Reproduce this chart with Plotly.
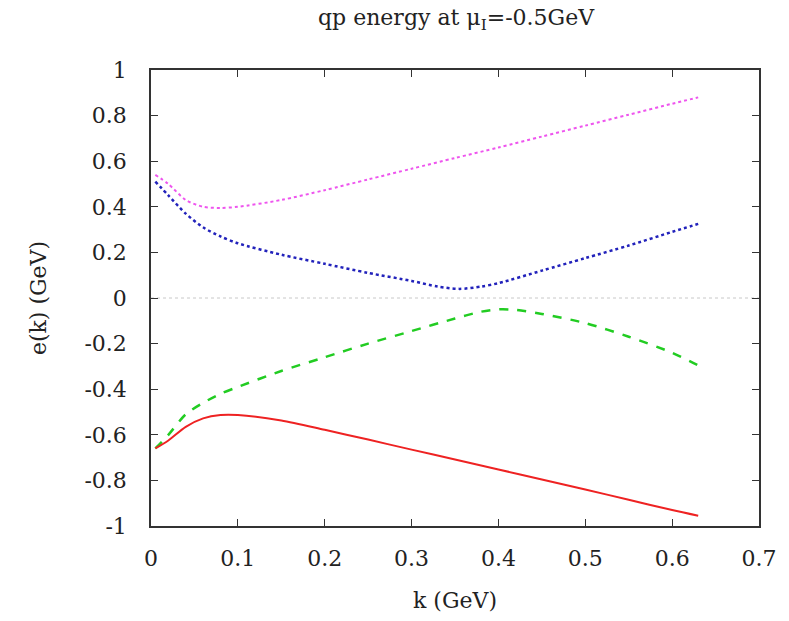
import plotly.graph_objects as go

k_mag = [0.005, 0.02, 0.04, 0.06, 0.08, 0.1, 0.15, 0.2, 0.25, 0.3, 0.35, 0.4, 0.45, 0.5, 0.55, 0.6, 0.63]
e_mag = [0.54, 0.50, 0.43, 0.40, 0.395, 0.40, 0.43, 0.473, 0.52, 0.567, 0.614, 0.66, 0.708, 0.756, 0.804, 0.852, 0.88]

k_blue = [0.005, 0.02, 0.04, 0.06, 0.08, 0.1, 0.15, 0.2, 0.25, 0.3, 0.33, 0.355, 0.38, 0.4, 0.45, 0.5, 0.55, 0.6, 0.63]
e_blue = [0.51, 0.45, 0.37, 0.31, 0.27, 0.24, 0.19, 0.15, 0.11, 0.075, 0.05, 0.04, 0.05, 0.065, 0.12, 0.175, 0.23, 0.29, 0.325]

k_green = [0.005, 0.02, 0.04, 0.06, 0.08, 0.1, 0.15, 0.2, 0.25, 0.3, 0.35, 0.38, 0.4, 0.42, 0.45, 0.5, 0.55, 0.6, 0.63]
e_green = [-0.66, -0.60, -0.51, -0.46, -0.42, -0.39, -0.32, -0.26, -0.20, -0.145, -0.09, -0.06, -0.05, -0.052, -0.07, -0.11, -0.17, -0.24, -0.295]

k_red = [0.005, 0.02, 0.04, 0.06, 0.08, 0.1, 0.15, 0.2, 0.25, 0.3, 0.35, 0.4, 0.45, 0.5, 0.55, 0.6, 0.63]
e_red = [-0.66, -0.625, -0.565, -0.528, -0.513, -0.513, -0.537, -0.578, -0.621, -0.665, -0.708, -0.752, -0.796, -0.84, -0.885, -0.93, -0.955]

x_ticks = [0, 0.1, 0.2, 0.3, 0.4, 0.5, 0.6, 0.7]
y_ticks = [-1, -0.8, -0.6, -0.4, -0.2, 0, 0.2, 0.4, 0.6, 0.8, 1]

FONT = "DejaVu Serif"
fnt = dict(family=FONT, size=22, color="#222")

fig = go.Figure()
# zero line
fig.add_trace(go.Scatter(x=[0, 0.7], y=[0, 0], mode="lines",
                         line=dict(color="#c8c8c8", width=1, dash="dot"), showlegend=False))
fig.add_trace(go.Scatter(x=k_mag, y=e_mag, mode="lines", line=dict(color="#ee55ee", width=2, dash="dot", shape="spline", smoothing=0.8), showlegend=False))
fig.add_trace(go.Scatter(x=k_blue, y=e_blue, mode="lines", line=dict(color="#2222bb", width=2.5, dash="dot", shape="spline", smoothing=0.8), showlegend=False))
fig.add_trace(go.Scatter(x=k_green, y=e_green, mode="lines", line=dict(color="#22cc22", width=2.5, dash="dash", shape="spline", smoothing=0.8), showlegend=False))
fig.add_trace(go.Scatter(x=k_red, y=e_red, mode="lines", line=dict(color="#ee2222", width=2, shape="spline", smoothing=0.8), showlegend=False))

fig.update_layout(
    width=789, height=621,
    margin=dict(l=151, r=30, t=70, b=95),
    paper_bgcolor="white", plot_bgcolor="white",
    font=fnt,
    title=dict(text="qp energy at μ<sub>I</sub>=-0.5GeV", x=0.578, xanchor="center", y=0.972, yanchor="middle",
               font=dict(family=FONT, size=22, color="#222")),
)
fig.update_xaxes(range=[0, 0.7], tickvals=x_ticks, ticktext=[f"{v:g}" for v in x_ticks],
                 tickfont=fnt,
                 showgrid=False, zeroline=False, showline=True, linecolor="#333", linewidth=1.5,
                 mirror="ticks", ticks="inside", ticklen=7, tickcolor="#333",
                 title=dict(text="k (GeV)", standoff=22, font=fnt), ticklabelstandoff=12)
fig.update_yaxes(range=[-1, 1], tickvals=y_ticks, ticktext=[f"{v:g}" for v in y_ticks],
                 tickfont=fnt,
                 showgrid=False, zeroline=False, showline=True, linecolor="#333", linewidth=1.5,
                 mirror="ticks", ticks="inside", ticklen=7, tickcolor="#333",
                 title=dict(text="e(k) (GeV)", standoff=32, font=fnt), ticklabelstandoff=18)

fig.write_html("out.html")
